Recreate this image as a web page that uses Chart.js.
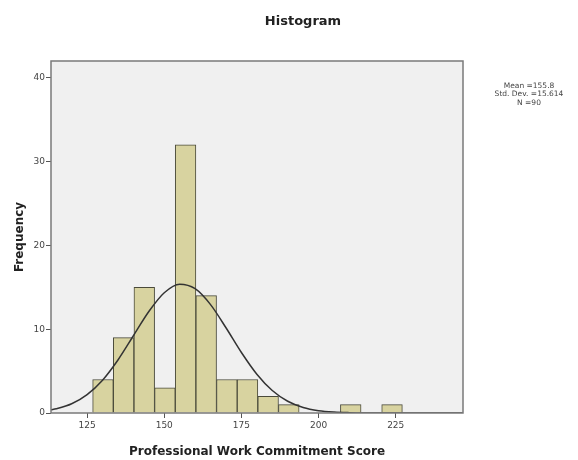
<!DOCTYPE html>
<html>
<head>
<meta charset="utf-8">
<script src="https://cdn.jsdelivr.net/npm/chart.js@4.4.1/dist/chart.umd.min.js"></script>
<style>
  html, body { margin: 0; padding: 0; background: #fff; }
  #wrap { width: 578px; height: 460px; }
</style>
</head>
<body>
<div id="wrap"><canvas id="histChart"></canvas></div>
<script>
// Histogram bins
const binStart = 126.8;
const binWidth = 6.69;
const binCounts = [4, 9, 15, 3, 32, 14, 4, 4, 2, 1, 0, 0, 1, 0, 1];

// Normal curve
const curveX = [113.3, 115, 120, 125, 130, 135, 140, 145, 150, 155, 160, 165, 170, 175, 180, 185, 190, 195, 200, 205, 210, 215, 220, 230, 246.8];
const curveY = [0.38, 0.51, 1.11, 2.2, 3.92, 6.33, 9.22, 12.11, 14.35, 15.37, 14.83, 12.93, 10.17, 7.22, 4.63, 2.68, 1.4, 0.66, 0.28, 0.11, 0.04, 0.01, 0, 0, 0];

// Axis ticks
const xTicks = [125, 150, 175, 200, 225];
const yTicks = [0, 10, 20, 30, 40];

const statsLines = ['Mean =155.8', 'Std. Dev. =15.614', 'N =90'];

const FONT = '"DejaVu Sans", Verdana, sans-serif';

const barData = binCounts.map((c, i) => ({ x: binStart + (i + 0.5) * binWidth, y: c }));
const curveData = curveX.map((x, i) => ({ x: x, y: curveY[i] }));

// Fond gris + cadre + textes annexes
const spssFrame = {
    id: 'spssFrame',
    beforeDatasetsDraw(chart) {
        const { ctx, chartArea: a } = chart;
        ctx.save();
        ctx.fillStyle = '#f0f0f0';
        ctx.fillRect(a.left, a.top, a.right - a.left, a.bottom - a.top);
        ctx.restore();
    },
    afterDraw(chart) {
        const { ctx, chartArea: a } = chart;
        ctx.save();
        ctx.strokeStyle = '#7a7a7a';
        ctx.lineWidth = 1.5;
        ctx.strokeRect(a.left, a.top, a.right - a.left, a.bottom - a.top);

        ctx.fillStyle = '#222';
        ctx.textAlign = 'center';
        ctx.textBaseline = 'middle';
        ctx.font = 'bold 13px ' + FONT;
        ctx.fillText('Histogram', 303, 22);

        ctx.fillStyle = '#444';
        ctx.font = '7.5px ' + FONT;
        statsLines.forEach((t, i) => ctx.fillText(t, 529, 86 + i * 8.5));
        ctx.restore();
    }
};

new Chart(document.getElementById('histChart'), {
    type: 'bar',
    data: {
        datasets: [
            {
                type: 'line',
                data: curveData,
                borderColor: '#333',
                borderWidth: 1.5,
                pointRadius: 0,
                cubicInterpolationMode: 'monotone',
                fill: false,
                order: 0
            },
            {
                data: barData,
                backgroundColor: '#d8d3a0',
                borderColor: '#4a4a3a',
                borderWidth: 1,
                barPercentage: 1,
                categoryPercentage: 1,
                order: 1
            }
        ]
    },
    options: {
        responsive: true,
        maintainAspectRatio: false,
        animation: false,
        layout: { padding: { top: 61, right: 115, bottom: 0, left: 0 } },
        plugins: {
            legend: { display: false },
            title: { display: false },
            tooltip: { enabled: false }
        },
        scales: {
            x: {
                type: 'linear',
                min: 113.3,
                max: 246.8,
                offset: false,
                afterBuildTicks: s => { s.ticks = xTicks.map(v => ({ value: v })); },
                afterFit: s => { s.height = 47; },
                grid: { offset: false, drawOnChartArea: false, drawTicks: true, tickLength: 5, color: '#555' },
                border: { display: false },
                ticks: {
                    color: '#444',
                    padding: 2,
                    maxRotation: 0,
                    font: { family: FONT, size: 9 }
                },
                title: {
                    display: true,
                    text: 'Professional Work Commitment Score',
                    color: '#222',
                    padding: { top: 0, bottom: 1 },
                    font: { family: FONT, size: 12, weight: 'bold' }
                }
            },
            y: {
                min: 0,
                max: 42,
                afterBuildTicks: s => { s.ticks = yTicks.map(v => ({ value: v })); },
                afterFit: s => { s.width = 51; },
                grid: { drawOnChartArea: false, drawTicks: true, tickLength: 5, color: '#555' },
                border: { display: false },
                ticks: {
                    color: '#444',
                    padding: 1,
                    font: { family: FONT, size: 9 }
                },
                title: {
                    display: true,
                    text: 'Frequency',
                    color: '#222',
                    padding: { top: 13, bottom: 0 },
                    font: { family: FONT, size: 12, weight: 'bold' }
                }
            }
        }
    },
    plugins: [spssFrame]
});
</script>
</body>
</html>
